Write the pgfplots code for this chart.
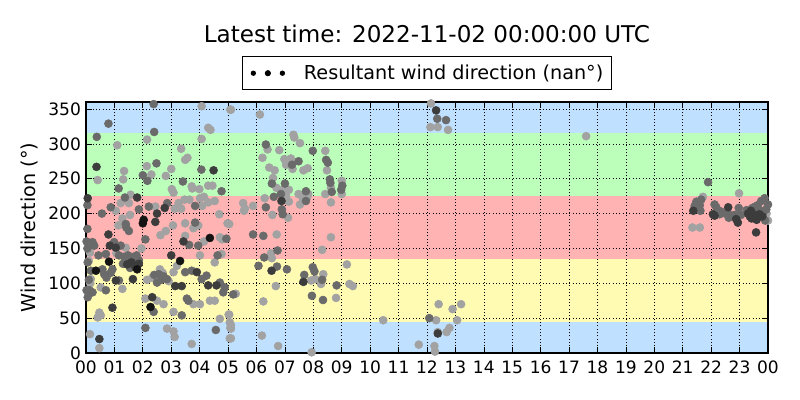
\documentclass[border=0pt]{standalone}
\usepackage{pgfplots}
\pgfplotsset{compat=1.18}
\usepackage{fontspec}
\setmainfont{DejaVu Sans}
\definecolor{bandblue}{HTML}{BFE0FF}
\definecolor{bandgreen}{HTML}{BBFFBB}
\definecolor{bandred}{HTML}{FFB3B3}
\definecolor{bandyellow}{HTML}{FFFBB3}
\definecolor{ptblack}{HTML}{141414}
\definecolor{ptdark}{HTML}{3C3C3C}
\definecolor{ptmid}{HTML}{6A6A6A}
\definecolor{ptlight}{HTML}{A2A2A2}
\begin{document}
\begin{tikzpicture}
\path[use as bounding box] (-64.5pt,-35.25pt) rectangle (535.5pt,264.75pt);
\begin{axis}[
  at={(0,0)}, anchor=south west,
  scale only axis, width=511.5pt, height=188.25pt,
  xmin=0, xmax=24, ymin=0, ymax=360,
  xtick={0,1,...,24},
  xticklabels={00,01,02,03,04,05,06,07,08,09,10,11,12,13,14,15,16,17,18,19,20,21,22,23,00},
  ytick={0,50,...,350},
  /pgf/number format/assume math mode=true,
  tick label style={font=\fontsize{12.8}{15}\selectfont},
  xticklabel style={yshift=-2.5pt},
  yticklabel style={xshift=-0.3pt},
  label style={font=\fontsize{14.4}{17}\selectfont},
  ylabel={Wind direction (°)},
  ylabel style={at={(axis description cs:-0.0836,0.5)}, anchor=center, rotate=0},
  title={Latest time: 2022-11-02 00:00:00 UTC},
  title style={at={(axis description cs:0.5,1)}, anchor=base, yshift=39pt, font=\fontsize{17.3}{20}\selectfont},
  axis on top,
  axis line style={line width=1pt},
  grid=major,
  major grid style={black, line width=0.5pt, dash pattern=on 0.75pt off 1.75pt},
  tick align=inside,
  major tick length=4.2pt,
  tick style={black, line width=0.5pt},
  legend style={at={(axis description cs:0.5,1)}, anchor=south, yshift=9pt,
    draw=black, line width=0.75pt, font=\fontsize{14.4}{17}\selectfont,
    nodes={inner sep=0pt},
    inner xsep=6.5pt, inner ysep=6pt},
  legend cell align=left,
]
\addplot[fill=bandblue, draw=none, forget plot] coordinates {(0,0) (24,0) (24,45) (0,45)} -- cycle;
\addplot[fill=bandyellow, draw=none, forget plot] coordinates {(0,45) (24,45) (24,135) (0,135)} -- cycle;
\addplot[fill=bandred, draw=none, forget plot] coordinates {(0,135) (24,135) (24,225) (0,225)} -- cycle;
\addplot[fill=bandgreen, draw=none, forget plot] coordinates {(0,225) (24,225) (24,315) (0,315)} -- cycle;
\addplot[fill=bandblue, draw=none, forget plot] coordinates {(0,315) (24,315) (24,360) (0,360)} -- cycle;

% light points
\addplot[only marks, mark=*, mark size=3pt, color=ptlight,
  legend image code/.code={
    \fill[black] (0pt,0pt) circle (1.6pt);
    \fill[black] (10.9pt,0pt) circle (1.9pt);
    \fill[black] (21.8pt,0pt) circle (1.6pt);
    \path (37.6pt,0pt);
  }] coordinates {
(4.07,354) (5.08,349) (4.30,323) (4.38,320) (2.15,306) (1.10,298) (4.07,307) (3.35,293) (3.49,277) (3.57,280)
(1.34,261) (2.14,268) (3.00,264) (2.30,256) (2.81,254) (0.41,248) (1.31,249) (3.72,239) (3.74,236) (3.99,235)
(4.30,240) (4.45,240) (1.57,227) (3.02,235) (3.08,230) (3.26,215) (3.47,220) (3.64,220) (4.01,222) (4.15,224)
(4.30,216) (4.53,218) (1.22,215) (1.51,215) (2.44,210) (3.12,207) (3.35,207) (4.09,211) (1.05,204) (1.28,193)
(1.55,198) (1.14,183) (3.06,183) (3.49,186) (4.69,199) (4.98,186) (2.62,169) (2.81,175) (3.49,168) (3.78,179)
(3.95,183) (1.40,151) (4.15,160) (4.71,166) (4.79,163) (0.14,144) (1.07,143) (4.01,140) (4.53,130) (4.77,142)
(0.17,106) (2.15,105) (2.33,108) (2.91,103) (3.20,125) (3.08,116) (0.52,94) (1.28,92) (2.09,78) (2.50,75)
(2.73,70) (3.78,70) (4.01,70) (4.36,75) (4.53,75) (3.08,59) (0.47,58) (0.52,54) (0.41,51) (4.71,49)
(5.02,55) (5.06,44) (5.08,36) (3.08,31) (3.12,23) (0.14,27) (0.47,7) (3.72,13) (5.06,21) (2.85,35)
(0.10,132) (0.15,100) (2.60,120) (2.70,115) (1.95,150)
(5.10,349) (6.12,342) (7.30,313) (7.33,309) (7.53,301) (6.39,292) (6.80,291) (6.21,280) (6.98,278) (7.21,279)
(7.04,270) (7.27,264) (8.42,290) (8.48,262) (7.65,262) (7.80,265) (6.45,266) (6.64,262) (6.58,251) (6.70,237)
(8.62,237) (9.00,247) (9.00,228) (6.92,234) (7.14,234) (7.82,228) (7.78,223) (7.48,228) (7.62,223) (7.04,225)
(8.42,228) (6.29,222) (7.14,217) (5.53,215) (5.59,207) (5.56,204) (5.88,211) (7.53,213) (8.62,216) (6.56,198)
(7.11,194) (5.04,185) (6.71,170) (8.62,166) (6.51,143) (6.54,136) (8.31,148) (9.18,127) (8.35,113) (7.92,104)
(8.07,106) (8.27,99) (9.27,99) (9.39,96) (6.68,96) (8.80,79) (5.27,85) (6.24,74) (5.04,55) (5.10,40)
(5.10,35) (5.10,21) (6.19,25) (6.76,10) (7.94,1)
(12.14,358) (12.12,324) (12.38,324) (12.74,320) (12.41,70) (13.20,70) (12.90,63) (12.32,47) (13.06,47) (10.46,47)
(12.79,36) (12.69,30) (12.38,30) (12.26,10) (12.28,2) (11.71,12) (17.60,311)
(22.98,229) (21.71,224) (21.34,180) (21.60,180) (23.95,200) (24.0,190)
};
\addlegendentry{Resultant wind direction (nan°)}

% mid points
\addplot[only marks, mark=*, mark size=3pt, color=ptmid, forget plot] coordinates {
(2.38,357) (0.79,329) (0.38,310) (2.40,317) (2.48,272) (4.06,263) (2.00,255) (2.16,247) (3.41,246) (4.77,232)
(1.15,236) (1.37,223) (0.87,209) (1.86,206) (2.21,210) (2.86,215) (3.84,211) (0.56,200) (1.40,185) (1.42,180)
(3.84,187) (1.51,175) (2.09,163) (0.23,159) (0.29,154) (0.99,159) (1.22,154) (3.63,155) (3.95,154) (4.94,164)
(0.44,140) (0.70,142) (1.16,140) (1.34,138) (1.45,133) (1.57,138) (1.51,128) (1.63,126) (1.74,131) (1.69,138)
(1.86,133) (1.40,130) (1.55,122) (1.30,128) (1.48,140) (1.62,132) (1.78,140) (4.63,140) (0.06,130) (0.17,118)
(0.58,120) (0.64,113) (0.72,108) (0.87,115) (0.93,120) (1.16,104) (2.56,113) (2.50,101) (2.73,110) (2.85,106)
(3.49,116) (3.72,118) (4.07,106) (4.24,111) (4.71,101) (4.88,94) (4.83,87) (0.12,90) (0.23,87) (0.06,80)
(0.70,90) (2.38,59) (3.55,78) (3.60,75) (3.37,54) (2.09,36) (4.57,33) (0.05,212) (0.05,178) (0.02,160)
(0.05,150) (0.02,90) (0.08,88) (0.10,105) (2.65,105) (2.40,112)
(6.33,299) (7.48,275) (7.25,270) (7.98,290) (8.45,277) (8.51,273) (6.54,243) (7.00,243) (8.58,249) (8.60,244)
(9.02,240) (8.98,234) (7.74,232) (6.86,228) (6.61,224) (8.65,231) (7.74,218) (6.33,209) (6.89,206) (6.92,199)
(5.88,170) (6.24,168) (6.74,147) (6.27,137) (6.07,125) (6.72,124) (7.07,120) (7.68,112) (7.98,123) (8.04,117)
(8.31,105) (8.82,97) (7.95,82) (8.34,76) (5.18,84)
(12.36,336) (12.67,334) (12.08,50)
(21.89,245) (21.65,220) (21.48,217) (21.42,211) (21.60,212) (21.62,204) (22.12,213) (22.18,209) (22.24,204) (22.30,199)
(22.34,203) (22.62,194) (22.66,198) (22.83,198) (22.97,208) (23.64,212) (23.76,218) (23.88,222) (23.94,206) (23.82,200)
(23.90,190) (23.25,205) (23.45,208) (24.00,213) (23.70,205) (23.55,210) (23.05,198) (22.50,200)
};

% dark points
\addplot[only marks, mark=*, mark size=3pt, color=ptdark, forget plot] coordinates {
(0.37,267) (4.49,262) (0.06,222) (1.80,223) (2.77,208) (2.50,200) (2.44,188) (0.79,170) (0.84,154) (1.05,151)
(3.43,160) (1.74,123) (1.86,128) (3.00,140) (1.05,104) (1.65,106) (3.14,96) (3.37,96) (3.90,116) (4.30,97)
(4.59,97) (2.33,80) (0.93,65) (0.47,20) (1.60,130) (1.45,127)
(6.88,218) (7.65,102) (6.53,118) (12.32,348) (12.38,28)
(21.37,204) (22.06,199) (22.12,197) (22.60,209) (22.88,192) (22.94,187) (23.30,200) (23.36,196) (23.42,193) (23.48,199)
(23.54,195) (23.60,191) (23.70,199) (23.58,173) (23.40,204) (23.80,196)
};

% black points
\addplot[only marks, mark=*, mark size=3pt, color=ptblack, forget plot] coordinates {
(0.35,118) (0.81,131) (1.80,120) (2.27,66) (3.31,132) (2.00,186) (2.03,191) (4.36,165)
};
\end{axis}
\end{tikzpicture}
\end{document}
